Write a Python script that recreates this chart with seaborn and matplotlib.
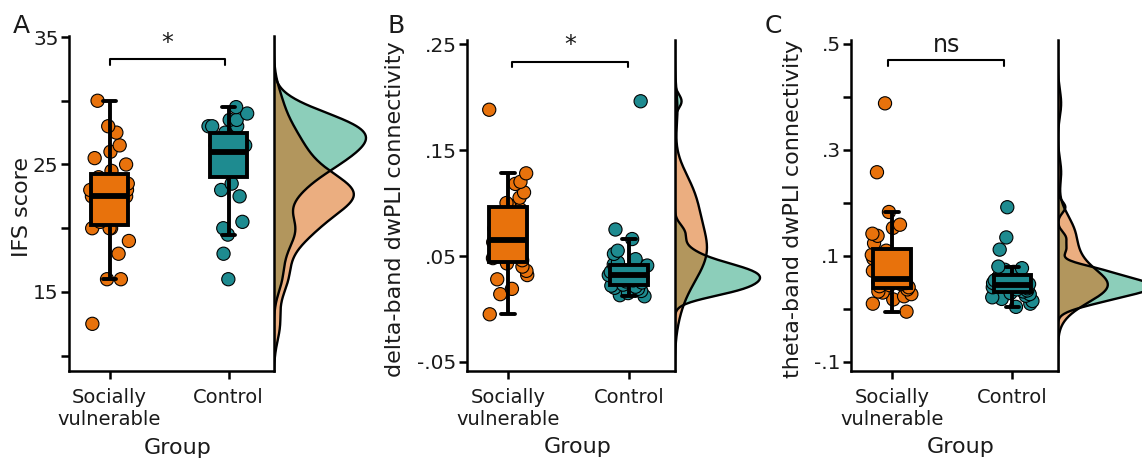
import numpy as np
import pandas as pd
import matplotlib
matplotlib.use("Agg")
import matplotlib.pyplot as plt
import seaborn as sns

# ---------------- data ----------------
groups = ["Socially vulnerable", "Control"]
group_ticklabels = ["Socially\nvulnerable", "Control"]

ifs_sv = [12.5, 16, 16, 18, 19, 20, 20, 20, 20.5, 21, 22, 22, 22, 22.5, 22.5, 22.5,
          22.5, 23, 23, 23, 23.5, 23.5, 24, 24.5, 25, 25.5, 26, 26.5, 27.5, 28, 30]
ifs_ctrl = [16, 18, 19.5, 20, 20.5, 22.5, 23, 23.5, 24.5, 24.5, 25, 25, 25.5, 25.5, 26, 26,
            26.5, 26.5, 27, 27, 27, 27.5, 27.5, 27.5, 28, 28, 28, 28.5, 28.5, 29, 29.5]

delta_sv = [-0.005, 0.014, 0.019, 0.028, 0.032, 0.036, 0.040, 0.043, 0.046, 0.048, 0.051,
            0.055, 0.058, 0.061, 0.063, 0.065, 0.068, 0.072, 0.076, 0.080, 0.085, 0.090,
            0.094, 0.098, 0.100, 0.105, 0.110, 0.118, 0.120, 0.128, 0.188]
delta_ctrl = [0.012, 0.013, 0.015, 0.017, 0.019, 0.020, 0.021, 0.022, 0.023, 0.025, 0.026,
              0.027, 0.029, 0.030, 0.031, 0.032, 0.033, 0.034, 0.035, 0.036, 0.038, 0.040,
              0.041, 0.042, 0.044, 0.047, 0.052, 0.055, 0.066, 0.075, 0.196]

theta_sv = [-0.005, 0.010, 0.018, 0.024, 0.028, 0.031, 0.033, 0.037, 0.041, 0.043, 0.045,
            0.047, 0.049, 0.051, 0.053, 0.055, 0.060, 0.066, 0.072, 0.080, 0.088, 0.095,
            0.102, 0.110, 0.124, 0.138, 0.142, 0.153, 0.159, 0.183, 0.258, 0.388]
theta_ctrl = [0.004, 0.010, 0.015, 0.019, 0.022, 0.025, 0.028, 0.030, 0.033, 0.035, 0.037,
              0.039, 0.041, 0.043, 0.044, 0.045, 0.047, 0.049, 0.051, 0.054, 0.057, 0.059,
              0.062, 0.065, 0.070, 0.074, 0.077, 0.080, 0.112, 0.135, 0.192]

ifs_ticks = [10, 15, 20, 25, 30, 35]
ifs_ticklabels = ["", "15", "", "25", "", "35"]
delta_ticks = [-0.05, 0.05, 0.15, 0.25]
delta_ticklabels = ["-.05", ".05", ".15", ".25"]
theta_ticks = [-0.1, 0.0, 0.1, 0.2, 0.3, 0.4, 0.5]
theta_ticklabels = ["-.1", "", ".1", "", ".3", "", ".5"]

ylabels = ["IFS score", "delta-band dwPLI connectivity", "theta-band dwPLI connectivity"]
panel_letters = ["A", "B", "C"]
sig_labels = ["*", "*", "ns"]

# ---------------- style ----------------
box_pal = {"Socially vulnerable": "#E8720C", "Control": "#1E8B90"}
dens_pal = {"Socially vulnerable": "#d95f02", "Control": "#1b9e77"}
TXT = "#1a1a1a"

sns.set_theme(style="white")
plt.rcParams["font.family"] = ["DejaVu Sans"]

W, H = 1142, 463
fig = plt.figure(figsize=(W / 100, H / 100), dpi=100)


def nrd0_factor(v):
    v = np.asarray(v, float)
    sd = v.std(ddof=1)
    q1, q3 = np.percentile(v, [25, 75])
    bw = 0.9 * min(sd, (q3 - q1) / 1.34) * len(v) ** -0.2
    return bw / sd


panels = [
    dict(sv=ifs_sv, ct=ifs_ctrl, left=69, right=274, top=36, ylim=(8.80, 35.08),
         ticks=ifs_ticks, ticklabels=ifs_ticklabels, br=(0.0, 0.97, 33.25, 32.8, 34.5),
         ylab_x=-0.18, letter_x=13, dens_peak=92),
    dict(sv=delta_sv, ct=delta_ctrl, left=467, right=675, top=40, ylim=(-0.0585, 0.2538),
         ticks=delta_ticks, ticklabels=delta_ticklabels, br=(0.03, 0.99, 0.2333, 0.2286, 0.249),
         ylab_x=-0.298, letter_x=387, dens_peak=85),
    dict(sv=theta_sv, ct=theta_ctrl, left=851, right=1058, top=40, ylim=(-0.117, 0.5075),
         ticks=theta_ticks, ticklabels=theta_ticklabels, br=(-0.03, 0.93, 0.470, 0.4585, 0.498),
         ylab_x=-0.232, letter_x=765, dens_peak=95),
]

BOTTOM = 371
np.random.seed(7)

for i, p in enumerate(panels):
    df = pd.DataFrame({
        "Group": [groups[0]] * len(p["sv"]) + [groups[1]] * len(p["ct"]),
        "value": list(p["sv"]) + list(p["ct"]),
    })
    ax = fig.add_axes([p["left"] / W, 1 - BOTTOM / H,
                       (p["right"] - p["left"]) / W, (BOTTOM - p["top"]) / H])
    sns.stripplot(data=df, x="Group", y="value", hue="Group", order=groups, hue_order=groups,
                  palette=box_pal, jitter=0.17, size=9.5, edgecolor="black", linewidth=0.8,
                  legend=False, ax=ax, zorder=1)
    sns.boxplot(data=df, x="Group", y="value", hue="Group", order=groups, hue_order=groups,
                palette=box_pal, saturation=1, width=0.31, showfliers=False,
                linecolor="black", linewidth=2.8, medianprops=dict(linewidth=4.2),
                capwidths=0.11, legend=False, ax=ax)
    ax.set_xlim(-0.34, 1.38)
    ax.set_ylim(*p["ylim"])
    ax.set_yticks(p["ticks"])
    ax.set_yticklabels(p["ticklabels"])
    ax.set_xticks([0, 1])
    ax.set_xticklabels(group_ticklabels)
    for s in ["top", "right"]:
        ax.spines[s].set_visible(False)
    for s in ["left", "bottom"]:
        ax.spines[s].set_linewidth(1.8)
        ax.spines[s].set_color("black")
    ax.tick_params(axis="both", length=6, width=1.8, color="black", colors=TXT)
    ax.tick_params(axis="y", labelsize=14.5, pad=1.5, left=True)
    ax.tick_params(axis="x", labelsize=14, pad=6, bottom=True)
    ax.set_ylabel(ylabels[i], fontsize=16, color=TXT)
    ax.yaxis.set_label_coords(p["ylab_x"], 0.49)
    ax.set_xlabel("Group", fontsize=16, color=TXT)
    ax.xaxis.set_label_coords(0.53, -0.20)

    x0, x1, yb, yd, yt = p["br"]
    ax.plot([x0, x0, x1, x1], [yd, yb, yb, yd], color="black", lw=1.5, zorder=5)
    ax.text((x0 + x1) / 2, yt, sig_labels[i], ha="center", va="center",
            fontsize=17, color=TXT)

    fig.text(p["letter_x"] / W, 1 - 14 / H, panel_letters[i], fontsize=18,
             ha="left", va="top", color=TXT)

    # side density (raincloud)
    axd = fig.add_axes([p["right"] / W, 1 - BOTTOM / H, 100 / W, (BOTTOM - p["top"]) / H])
    kde_common = dict(cut=30, clip=p["ylim"], gridsize=400, ax=axd)
    bw_ct, bw_sv = nrd0_factor(p["ct"]), nrd0_factor(p["sv"])
    sns.kdeplot(y=p["ct"], fill=True, color=dens_pal["Control"], alpha=0.5,
                linewidth=0, bw_method=bw_ct, **kde_common)
    sns.kdeplot(y=p["sv"], fill=True, color=dens_pal["Socially vulnerable"], alpha=0.5,
                linewidth=0, bw_method=bw_sv, **kde_common)
    sns.kdeplot(y=p["ct"], fill=False, color="black", linewidth=1.7,
                bw_method=bw_ct, **kde_common)
    sns.kdeplot(y=p["sv"], fill=False, color="black", linewidth=1.7,
                bw_method=bw_sv, **kde_common)
    peak_ct = axd.lines[0].get_xdata().max()
    axd.set_xlim(0, peak_ct * 100 / p["dens_peak"])
    axd.set_ylim(*p["ylim"])
    axd.set_xticks([])
    axd.set_yticks([])
    axd.set_xlabel("")
    axd.set_ylabel("")
    for s in ["top", "right", "bottom"]:
        axd.spines[s].set_visible(False)
    axd.spines["left"].set_linewidth(1.8)
    axd.spines["left"].set_color("black")
    axd.patch.set_alpha(0)

fig.savefig("out.png", dpi=100)
